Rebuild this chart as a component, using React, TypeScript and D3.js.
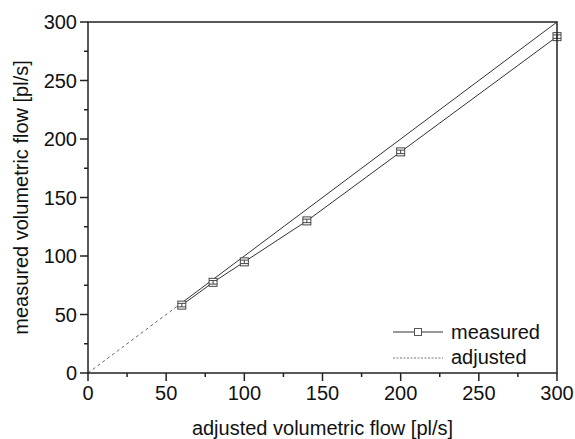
import React from "react";
import * as d3 from "d3";

const adjustedFlow = [60, 80, 100, 140, 200, 300];
const measuredFlow = [58, 77.5, 95, 130, 189, 287.5];
const measuredErr = [1.5, 1.5, 1.5, 1.5, 1.5, 1.5];
const idealDashed = [0, 60];
const idealSolid = [60, 300];
const xTicks = [0, 50, 100, 150, 200, 250, 300];
const yTicks = [0, 50, 100, 150, 200, 250, 300];
const minorTicks = [25, 75, 125, 175, 225, 275];
const xTitle = "adjusted volumetric flow [pl/s]";
const yTitle = "measured volumetric flow [pl/s]";
const legendLabels = ["measured", "adjusted"];

const W = 575;
const H = 439;
const L = 88, R = 557, T = 22, B = 373;
const font = "'Liberation Sans', Arial, sans-serif";

export default function App() {
  const x = d3.scaleLinear().domain([0, 300]).range([L, R]);
  const y = d3.scaleLinear().domain([0, 300]).range([B, T]);
  const line = d3.line<number>().x((d) => x(d)).y((d) => y(d));
  const mLine = d3
    .line<number>()
    .x((d, i) => x(adjustedFlow[i]))
    .y((d) => y(d));
  const ink = "#222";
  const ms = 4;
  const fs = 20;
  return (
    <svg
      width={W}
      height={H}
      style={{ position: "absolute", left: 0, top: 0, background: "#fff" }}
      fontFamily={font}
    >
      {/* ideal lines */}
      <path d={line(idealDashed) || ""} fill="none" stroke="#666" strokeWidth={1} strokeDasharray="3,3" />
      <path d={line(idealSolid) || ""} fill="none" stroke="#333" strokeWidth={1} />
      {/* measured line */}
      <path d={mLine(measuredFlow) || ""} fill="none" stroke="#333" strokeWidth={1} />
      {/* markers */}
      {measuredFlow.map((v, i) => {
        const cx = x(adjustedFlow[i]);
        const cy = y(v);
        const e = y(v - measuredErr[i]) - cy;
        return (
          <g key={i} stroke="#444" strokeWidth={1} fill="none">
            <rect x={cx - ms} y={cy - ms} width={2 * ms} height={2 * ms} fill="#fff" />
            <line x1={cx} x2={cx} y1={cy - e} y2={cy + e} />
            <line x1={cx - ms} x2={cx + ms} y1={cy - e} y2={cy - e} />
            <line x1={cx - ms} x2={cx + ms} y1={cy + e} y2={cy + e} />
          </g>
        );
      })}
      {/* frame */}
      <rect x={L} y={T} width={R - L} height={B - T} fill="none" stroke={ink} strokeWidth={1.5} />
      {/* x ticks */}
      {xTicks.map((t) => (
        <g key={"x" + t}>
          <line x1={x(t)} x2={x(t)} y1={B} y2={B + 8} stroke={ink} strokeWidth={1.5} />
          <text x={x(t)} y={400} fontSize={fs} textAnchor="middle" fill="#111">
            {t}
          </text>
        </g>
      ))}
      {minorTicks.map((t) => (
        <line key={"xm" + t} x1={x(t)} x2={x(t)} y1={B} y2={B + 4} stroke={ink} strokeWidth={1.5} />
      ))}
      {/* y ticks */}
      {yTicks.map((t) => (
        <g key={"y" + t}>
          <line x1={L - 8} x2={L} y1={y(t)} y2={y(t)} stroke={ink} strokeWidth={1.5} />
          <text x={77} y={y(t) + 7} fontSize={fs} textAnchor="end" fill="#111">
            {t}
          </text>
        </g>
      ))}
      {minorTicks.map((t) => (
        <line key={"ym" + t} x1={L - 4} x2={L} y1={y(t)} y2={y(t)} stroke={ink} strokeWidth={1.5} />
      ))}
      {/* titles */}
      <text x={(L + R) / 2} y={435} fontSize={fs} textAnchor="middle" fill="#111">
        {xTitle}
      </text>
      <text
        transform={`translate(28,${(T + B) / 2}) rotate(-90)`}
        fontSize={fs}
        textAnchor="middle"
        fill="#111"
      >
        {yTitle}
      </text>
      {/* legend */}
      <g>
        <line x1={393} x2={443} y1={332} y2={332} stroke="#333" strokeWidth={1} />
        <rect x={418 - 3.5} y={332 - 3.5} width={7} height={7} fill="#fff" stroke="#555" />
        <text x={451} y={339} fontSize={fs} fill="#111">
          {legendLabels[0]}
        </text>
        <line x1={393} x2={443} y1={358} y2={358} stroke="#777" strokeWidth={1} strokeDasharray="2,1.5" />
        <text x={451} y={364} fontSize={fs} fill="#111">
          {legendLabels[1]}
        </text>
      </g>
    </svg>
  );
}
